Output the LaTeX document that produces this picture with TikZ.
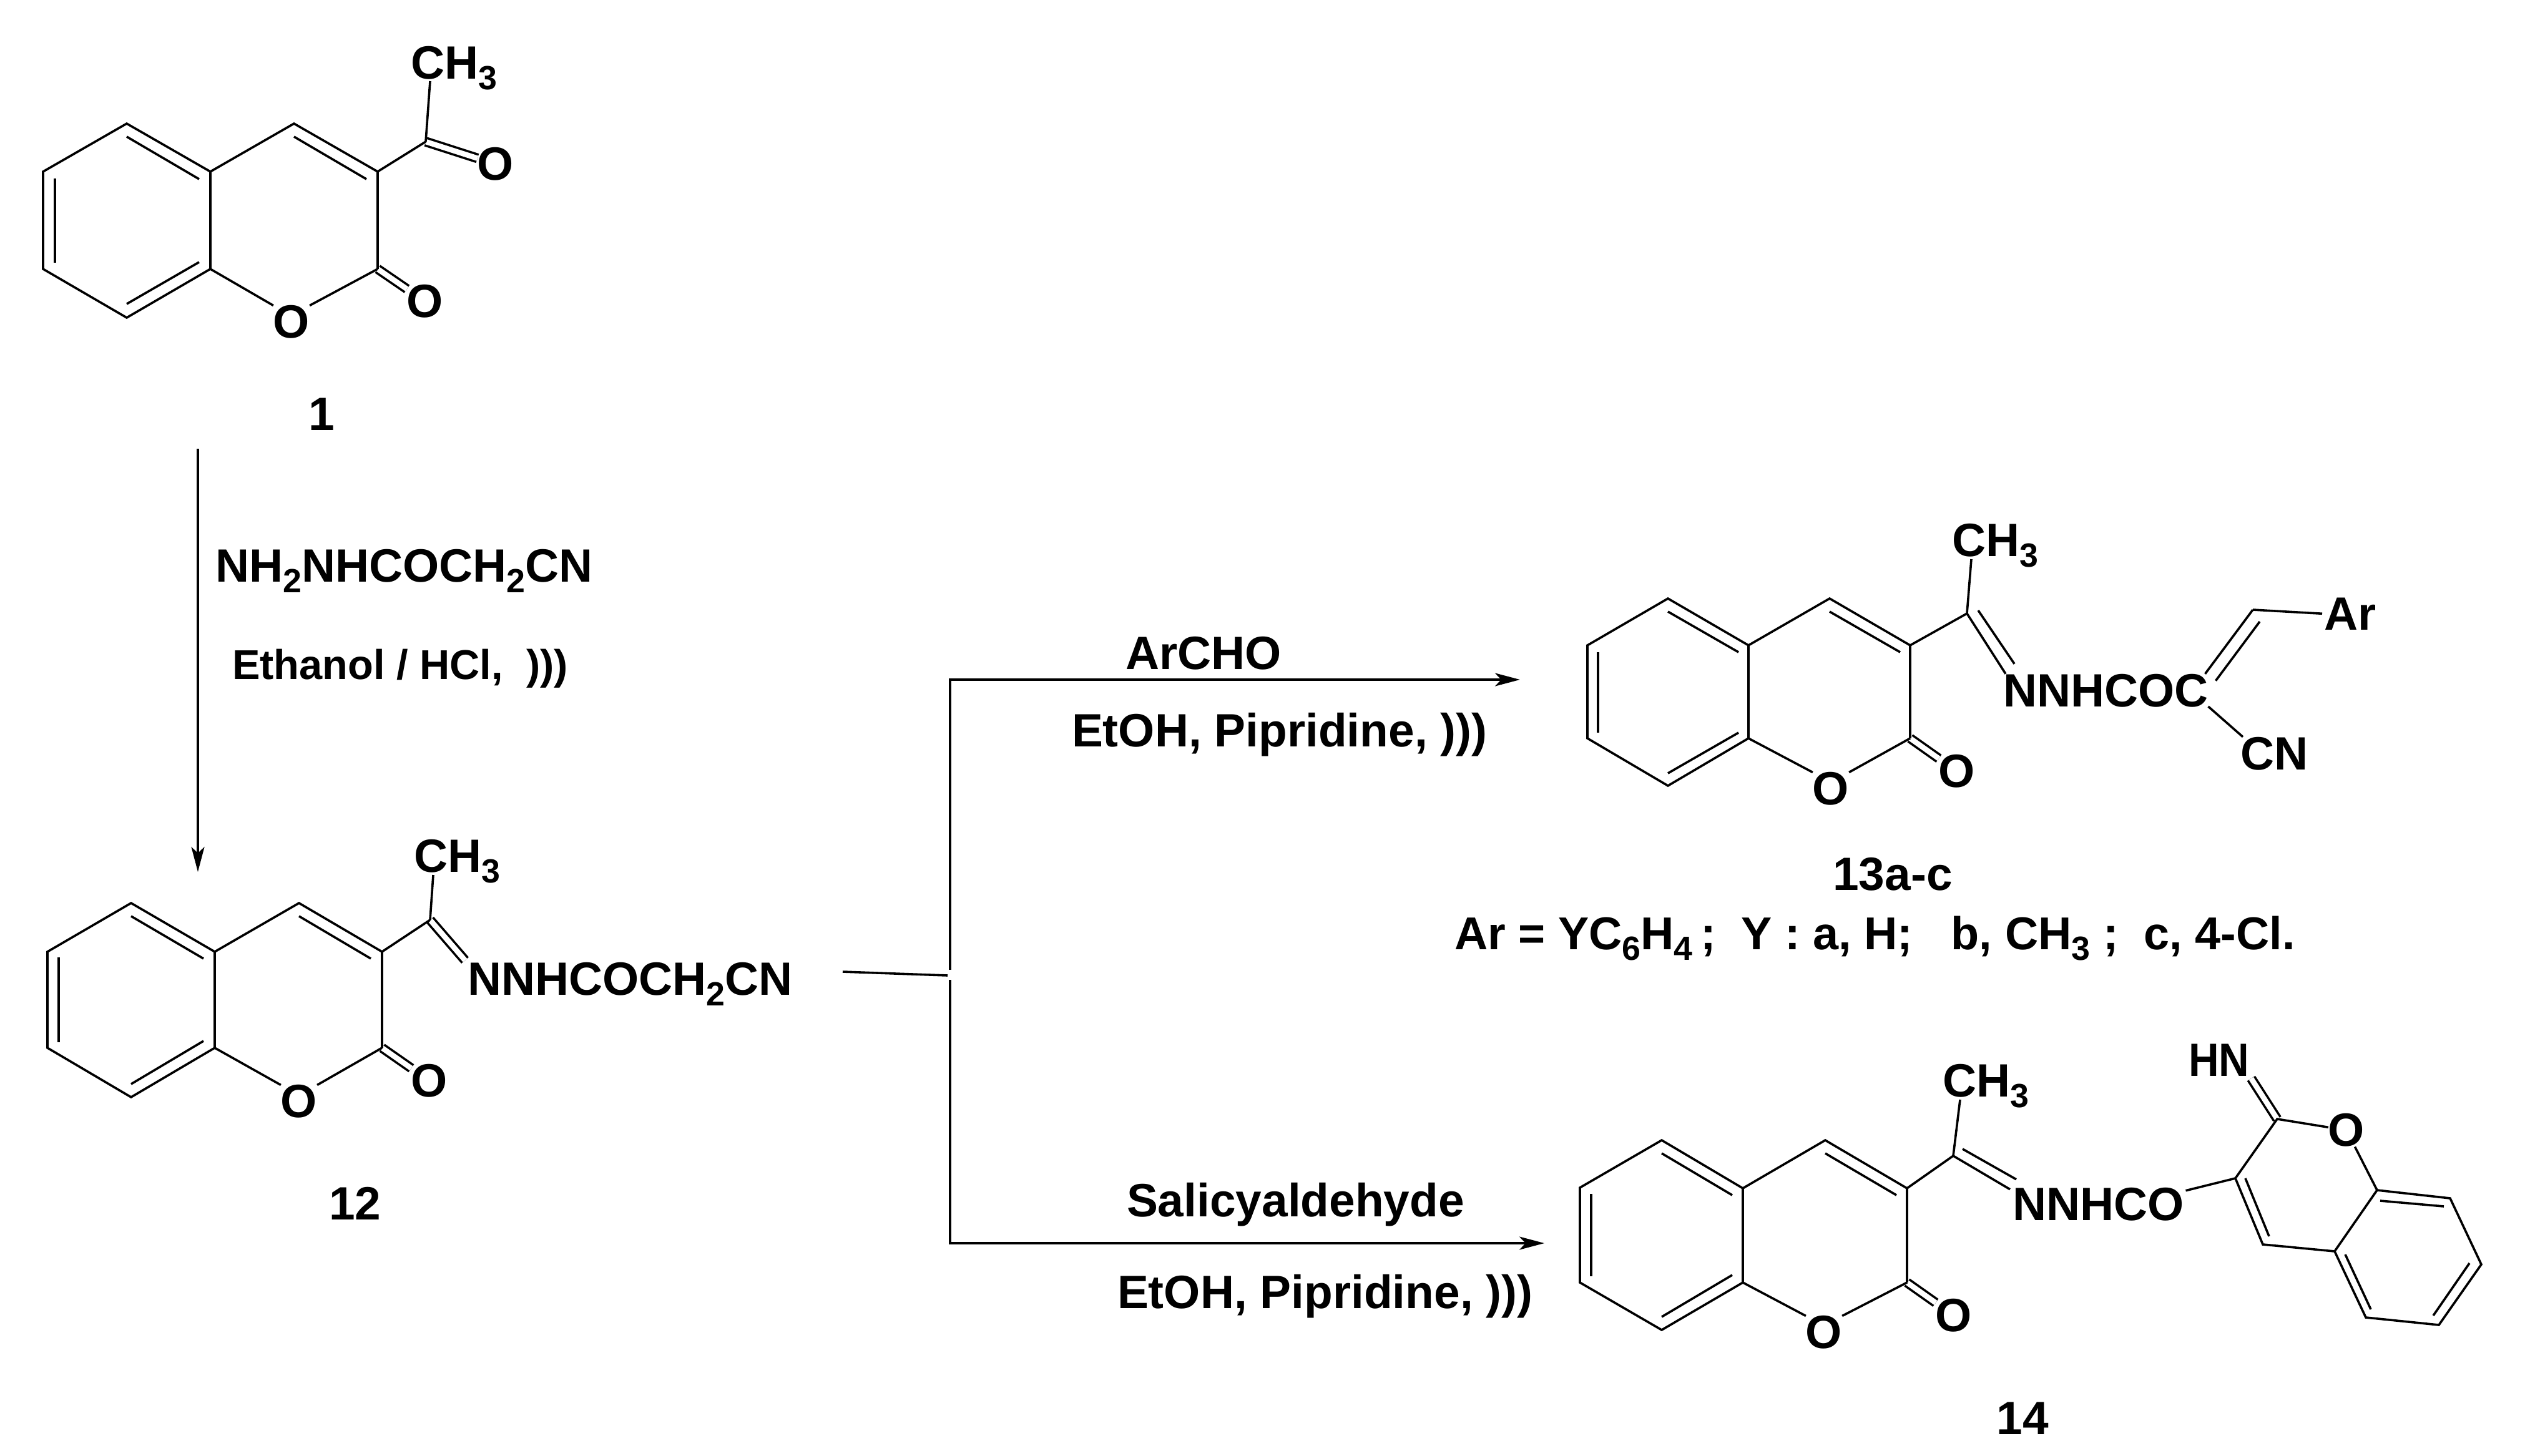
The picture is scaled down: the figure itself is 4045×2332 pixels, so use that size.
\documentclass[tikz,border=0pt]{standalone}
\usepackage{fontspec}
\setmainfont{Liberation Sans}
\usetikzlibrary{calc}
\usetikzlibrary{arrows.meta}
\newcommand{\lowidx}[1]{\raisebox{-5pt}{\fontsize{15.3}{15.3}\selectfont #1}}

\begin{document}
\begin{tikzpicture}[x=0.1mm,y=-0.1mm]
\tikzstyle{bond} =[line width=0.36mm]
\tikzstyle{dbond} =[line width=0.36mm,double,double distance=0.85mm]
\tikzstyle{reaction} =[line width=0.35mm,-{Stealth[length=4mm,width=2.1mm,inset=1mm]}]
\tikzstyle{atom} =[font=\bfseries\fontsize{21.3}{21.3}\selectfont,inner sep=0pt,outer sep=0pt]
\tikzstyle{chem} =[atom,anchor=base west,xshift=-0.4mm]
\tikzstyle{smallchem} =[chem,font=\bfseries\fontsize{19}{19}\selectfont]
\useasboundingbox (0,0) rectangle (4045,2332);

% compound 1
\coordinate(a1) at (203,198);
\coordinate(a2) at ($(a1)+(-134,77)$);
\coordinate(a3) at ($(a1)+(-134,233)$);
\coordinate(a4) at ($(a1)+(0,311)$);
\coordinate(a5) at ($(a1)+(134,233)$);
\coordinate(a6) at ($(a1)+(134,77)$);
\coordinate(a7) at ($(a1)+(268,0)$);
\coordinate(a8) at ($(a1)+(402,77)$);
\coordinate(a9) at ($(a1)+(402,233)$);
\coordinate(a10) at ($(a1)+(479,29)$);
\node[atom](ringOa) at ($(a1)+(264,318)$){O};
\node[atom](ketoOa) at ($(a1)+(478,285)$){O};
\node[atom](acylO) at ($(a1)+(591,65)$){O};
\node[chem](methyla) at ($(a1)+(459,-72)$){CH\lowidx{3}};
\node[atom,anchor=base](lab1) at (515,689){1};
\draw[dbond] (a9)--(ketoOa);
\draw[dbond] (a10)--(acylO);
\draw[bond] (a1)--(a2)--(a3)--(a4)--(a5)--(a6)--cycle;
\draw[bond] (a6)--(a7)--(a8)--(a9);
\draw[bond] (a5)--(ringOa.north west);
\draw[bond] (a9)--(ringOa.north east);
\draw[bond] (a8)--(a10);
\draw[bond] (a10)--($(methyla.base west)+(31,4)$);
\draw[bond] ($(a1)+(0,21)$)--($(a6)+(-18,12)$);
\draw[bond] ($(a2)+(19,11)$)--($(a3)+(19,-10)$);
\draw[bond] ($(a4)+(0,-22)$)--($(a5)+(-18,-11)$);
\draw[bond] ($(a7)+(0,21)$)--($(a8)+(-18,12)$);

% compound 12
\coordinate(b1) at (210,1447);
\coordinate(b2) at ($(b1)+(-134,78)$);
\coordinate(b3) at ($(b1)+(-134,232)$);
\coordinate(b4) at ($(b1)+(0,311)$);
\coordinate(b5) at ($(b1)+(134,232)$);
\coordinate(b6) at ($(b1)+(134,78)$);
\coordinate(b7) at ($(b1)+(269,0)$);
\coordinate(b8) at ($(b1)+(402,78)$);
\coordinate(b9) at ($(b1)+(402,232)$);
\coordinate(b10) at ($(b1)+(479,27)$);
\node[atom](ringOb) at ($(b1)+(269,318)$){O};
\node[atom](ketoOb) at ($(b1)+(478,285)$){O};
\node[chem](methylb) at ($(b1)+(457,-50)$){CH\lowidx{3}};
\node[chem](chainb) at ($(b1)+(543,147)$){NNHCOCH\lowidx{2}CN};
\node[atom,anchor=base](lab12) at (569,1954){12};
\draw[dbond] (b9)--(ketoOb);
\draw[dbond] (b10)--($(chainb.north west)+(-4,-3)$);
\draw[bond] (b1)--(b2)--(b3)--(b4)--(b5)--(b6)--cycle;
\draw[bond] (b6)--(b7)--(b8)--(b9);
\draw[bond] (b5)--(ringOb.north west);
\draw[bond] (b9)--(ringOb.north east);
\draw[bond] (b8)--(b10);
\draw[bond] (b10)--($(methylb.base west)+(31,5)$);
\draw[bond] ($(b1)+(0,21)$)--($(b6)+(-18,11)$);
\draw[bond] ($(b2)+(18,9)$)--($(b3)+(18,-9)$);
\draw[bond] ($(b4)+(0,-21)$)--($(b5)+(-18,-11)$);
\draw[bond] ($(b7)+(0,21)$)--($(b8)+(-18,11)$);

% compound 13
\coordinate(c1) at (2672,959);
\coordinate(c2) at ($(c1)+(-129,75)$);
\coordinate(c3) at ($(c1)+(-129,224)$);
\coordinate(c4) at ($(c1)+(0,300)$);
\coordinate(c5) at ($(c1)+(129,224)$);
\coordinate(c6) at ($(c1)+(129,75)$);
\coordinate(c7) at ($(c1)+(259,0)$);
\coordinate(c8) at ($(c1)+(388,75)$);
\coordinate(c9) at ($(c1)+(388,224)$);
\coordinate(c10) at ($(c1)+(479,24)$);
\coordinate(c11) at ($(c1)+(937,18)$);
\node[atom](ringOc) at ($(c1)+(261,305)$){O};
\node[atom](ketoOc) at ($(c1)+(463,277)$){O};
\node[chem](methylc) at ($(c1)+(459,-68)$){CH\lowidx{3}};
\node[chem](chainc) at ($(c1)+(541,173)$){NNHCOC};
\node[chem](arylc) at ($(c1)+(1055,50)$){Ar};
\node[chem](cyanoc) at ($(c1)+(921,274)$){CN};
\node[atom,anchor=base](lab13) at (3032,1426){13a-c};
\node[atom,anchor=base west,font=\bfseries\fontsize{21}{21}\selectfont](arlegend) at (2330,1521){Ar = YC\lowidx{6}H\lowidx{4}\,;\ \ Y : a, H;\ \ \ b, CH\lowidx{3}\ ;\ \ c, 4-Cl.};
\draw[dbond] (c9)--(ketoOc);
\draw[bond] (c1)--(c2)--(c3)--(c4)--(c5)--(c6)--cycle;
\draw[bond] (c6)--(c7)--(c8)--(c9);
\draw[bond] (c5)--(ringOc.north west);
\draw[bond] (c9)--(ringOc.north east);
\draw[bond] (c8)--(c10);
\draw[bond] (c10)--($(methylc.base west)+(31,5)$);
\draw[bond] (c10)--($(chainc.north west)+(4,0)$);
\draw[bond] ($(c10)+(18,-5)$)--($(chainc.north west)+(18,-16)$);
\draw[bond] (c11)--($(chainc.north east)+(-5,0)$);
\draw[bond] ($(c11)+(11,19)$)--($(chainc.north east)+(12,11)$);
\draw[bond] (c11)--($(arylc.west)+(-3,0)$);
\draw[bond] (chainc.base east)--($(cyanoc.north west)+(4,0)$);
\draw[bond] ($(c1)+(0,21)$)--($(c6)+(-16,11)$);
\draw[bond] ($(c2)+(17,11)$)--($(c3)+(17,-9)$);
\draw[bond] ($(c4)+(0,-20)$)--($(c5)+(-16,-9)$);
\draw[bond] ($(c7)+(0,21)$)--($(c8)+(-16,11)$);

% compound 14
\coordinate(d1) at (2662,1827);
\coordinate(d2) at ($(d1)+(-131,76)$);
\coordinate(d3) at ($(d1)+(-131,228)$);
\coordinate(d4) at ($(d1)+(0,304)$);
\coordinate(d5) at ($(d1)+(130,228)$);
\coordinate(d6) at ($(d1)+(130,77)$);
\coordinate(d7) at ($(d1)+(262,0)$);
\coordinate(d8) at ($(d1)+(393,77)$);
\coordinate(d9) at ($(d1)+(393,228)$);
\coordinate(d10) at ($(d1)+(467,25)$);
\node[atom](ringOd) at ($(d1)+(260,308)$){O};
\node[atom](ketoOd) at ($(d1)+(468,281)$){O};
\node[chem](methyld) at ($(d1)+(454,-70)$){CH\lowidx{3}};
\node[chem](chaind) at ($(d1)+(566,128)$){NNHCO};
\node[atom,anchor=base](lab14) at (3240,2298){14};
\draw[dbond] (d9)--(ketoOd);
\draw[bond] (d1)--(d2)--(d3)--(d4)--(d5)--(d6)--cycle;
\draw[bond] (d6)--(d7)--(d8)--(d9);
\draw[bond] (d5)--(ringOd.north west);
\draw[bond] (d9)--(ringOd.north east);
\draw[bond] (d8)--(d10);
\draw[bond] (d10)--($(methyld.base west)+(28,5)$);
\draw[bond] (d10)--($(chaind.north west)+(-4,3)$);
\draw[bond] ($(d10)+(15,-11)$)--($(chaind.north west)+(6,-13)$);
\draw[bond] ($(d1)+(0,21)$)--($(d6)+(-17,11)$);
\draw[bond] ($(d2)+(18,10)$)--($(d3)+(18,-10)$);
\draw[bond] ($(d4)+(0,-21)$)--($(d5)+(-17,-12)$);
\draw[bond] ($(d7)+(0,21)$)--($(d8)+(-17,11)$);

% iminocoumarin part of 14
\coordinate(e1) at (3581,1888);
\coordinate(e2) at ($(e1)+(67,-95)$);
\coordinate(e3) at ($(e1)+(227,19)$);
\coordinate(e4) at ($(e1)+(344,32)$);
\coordinate(e5) at ($(e1)+(394,138)$);
\coordinate(e6) at ($(e1)+(326,235)$);
\coordinate(e7) at ($(e1)+(209,223)$);
\coordinate(e8) at ($(e1)+(159,117)$);
\coordinate(e9) at ($(e1)+(44,106)$);
\node[atom](ringOe) at ($(e1)+(178,-77)$){O};
\node[chem](iminoe) at ($(e1)+(-71,-164)$){\scalebox{0.9}[1]{HN}};
\draw[dbond] (e2)--($(iminoe.base east)+(3,4)$);
\draw[bond] (e1)--(e2)--(ringOe);
\draw[bond] (ringOe)--(e3)--(e4)--(e5)--(e6)--(e7)--(e8)--(e9)--(e1);
\draw[bond] (e3)--(e8);
\draw[bond] ($(chaind.north east)+(3,5)$)--(e1);
\draw[bond] ($(e1)+(16,0)$)--($(e9)+(10,-13)$);
\draw[bond] ($(e3)+(5,17)$)--($(e4)+(-10,13)$);
\draw[bond] ($(e5)+(-19,-2)$)--($(e6)+(-9,-15)$);
\draw[bond] ($(e7)+(8,-13)$)--($(e8)+(17,5)$);

% reactions
\coordinate(arrowstart) at (317,719);
\coordinate(arrowend) at (317,1397);
\draw[reaction] (arrowstart)--(arrowend);
\node[chem](hydrazide) at (349,932){NH\lowidx{2}NHCOCH\lowidx{2}CN};
\node[smallchem](acidcond) at (376,1088){Ethanol / HCl,\ \ )))};

\coordinate(feed) at (1350,1557);
\coordinate(feedend) at (1518,1563);
\draw[bond] (feed)--(feedend);
\coordinate(upstart) at (1522,1554);
\coordinate(upcorner) at (1522,1089);
\coordinate(uptip) at (2435,1089);
\draw[reaction] (upstart)--(upcorner)--(uptip);
\coordinate(downstart) at (1522,1570);
\coordinate(downcorner) at (1522,1992);
\coordinate(downtip) at (2474,1992);
\draw[reaction] (downstart)--(downcorner)--(downtip);

\node[chem](archo) at (1807,1072){ArCHO};
\node[chem](condup) at (1721,1196){EtOH, Pipridine, )))};
\node[chem](salicyl) at (1809,1949){Salicyaldehyde};
\node[chem](conddown) at (1794,2096){EtOH, Pipridine, )))};
\end{tikzpicture}
\end{document}
